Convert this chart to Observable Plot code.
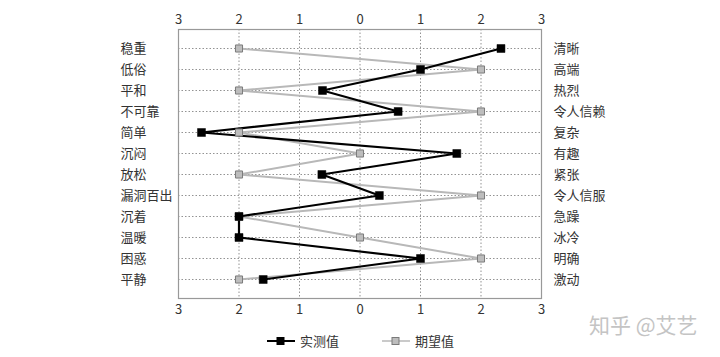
<!DOCTYPE html>
<html>
<head>
<meta charset="utf-8">
<script src="https://cdn.jsdelivr.net/npm/d3@7"></script>
<script src="https://cdn.jsdelivr.net/npm/@observablehq/plot@0.6"></script>
<style>
  body { margin: 0; background: #fff; font-family: "Noto Sans CJK SC", "Noto Sans", sans-serif; }
  #wrap { position: relative; width: 720px; height: 357px; }
  #legend { position: absolute; left: 0; top: 331px; width: 720px; display: flex; justify-content: center; gap: 42px; font-size: 13px; color: #333; }
  #legend span.item { display: flex; align-items: center; gap: 4px; }
  #wm { position: absolute; left: 589px; top: 309px; font-size: 21px; color: #c4c4c4; letter-spacing: 0px; }
</style>
</head>
<body>
<div id="wrap">
  <div id="chart"></div>
  <div id="legend"></div>
  <div id="wm">知乎 @艾艺</div>
</div>
<script>
const leftLabels = ["稳重","低俗","平和","不可靠","简单","沉闷","放松","漏洞百出","沉着","温暖","困惑","平静"];
const rightLabels = ["清晰","高端","热烈","令人信赖","复杂","有趣","紧张","令人信服","急躁","冰冷","明确","激动"];
const measured = [2.33, 1.0, -0.62, 0.63, -2.62, 1.6, -0.63, 0.32, -2, -2, 1.0, -1.6];
const expected = [-2, 2, -2, 2, -2, 0, -2, 2, -2, 0, 2, -2];
const xTicks = [-3, -2, -1, 0, 1, 2, 3];
const seriesNames = ["实测值", "期望值"];

const rows = leftLabels.map((l, i) => ({left: l, right: rightLabels[i], measured: measured[i], expected: expected[i]}));

const font = "Noto Sans CJK SC";
const chart = Plot.plot({
  width: 720,
  height: 325,
  marginLeft: 178,
  marginRight: 179,
  marginTop: 29,
  marginBottom: 27,
  style: {fontFamily: font, fontSize: "13px", color: "#333", background: "#fff"},
  x: {domain: [-3, 3], ticks: xTicks, axis: null},
  y: {type: "point", domain: leftLabels, padding: 0.72, axis: null},
  marks: [
    Plot.gridX(xTicks, {stroke: "#777", strokeOpacity: 1, strokeDasharray: "1.5,2", strokeWidth: 0.8}),
    Plot.gridY(leftLabels, {stroke: "#777", strokeOpacity: 1, strokeDasharray: "1.5,2", strokeWidth: 0.8}),
    Plot.frame({stroke: "#999", strokeWidth: 1.2}),
    Plot.axisX(xTicks, {anchor: "top", tickSize: 0, tickPadding: 6, tickFormat: d => Math.abs(d), fontSize: 13, fill: "#333", label: null}),
    Plot.axisX(xTicks, {anchor: "bottom", tickSize: 0, tickPadding: 6, tickFormat: d => Math.abs(d), fontSize: 13, fill: "#333", label: null}),
    Plot.text(rows, {y: "left", text: "left", frameAnchor: "left", dx: -58, textAnchor: "start", fontSize: 13, fill: "#333"}),
    Plot.text(rows, {y: "left", text: "right", frameAnchor: "right", dx: 12, textAnchor: "start", fontSize: 13, fill: "#333"}),
    Plot.line(rows, {x: "expected", y: "left", stroke: "#b8b8b8", strokeWidth: 2}),
    Plot.line(rows, {x: "measured", y: "left", stroke: "#000", strokeWidth: 2.2}),
    Plot.dot(rows, {x: "expected", y: "left", symbol: "square", r: 4, fill: "#bdbdbd", stroke: "#7a7a7a", strokeWidth: 1}),
    Plot.dot(rows, {x: "measured", y: "left", symbol: "square", r: 4.5, fill: "#000", stroke: "#000", strokeWidth: 0.5})
  ]
});
document.getElementById("chart").appendChild(chart);

const legend = document.getElementById("legend");
const styles = [
  {line: "#000", lw: 2, fill: "#000", stroke: "#000"},
  {line: "#b8b8b8", lw: 1.5, fill: "#bdbdbd", stroke: "#7a7a7a"}
];
seriesNames.forEach((name, i) => {
  const s = styles[i];
  const item = document.createElement("span");
  item.className = "item";
  item.innerHTML = `<svg width="30" height="12"><line x1="1" x2="29" y1="6" y2="6" stroke="${s.line}" stroke-width="${s.lw}"/><rect x="11" y="2.5" width="7" height="7" fill="${s.fill}" stroke="${s.stroke}"/></svg><span>${name}</span>`;
  legend.appendChild(item);
});
</script>
</body>
</html>
